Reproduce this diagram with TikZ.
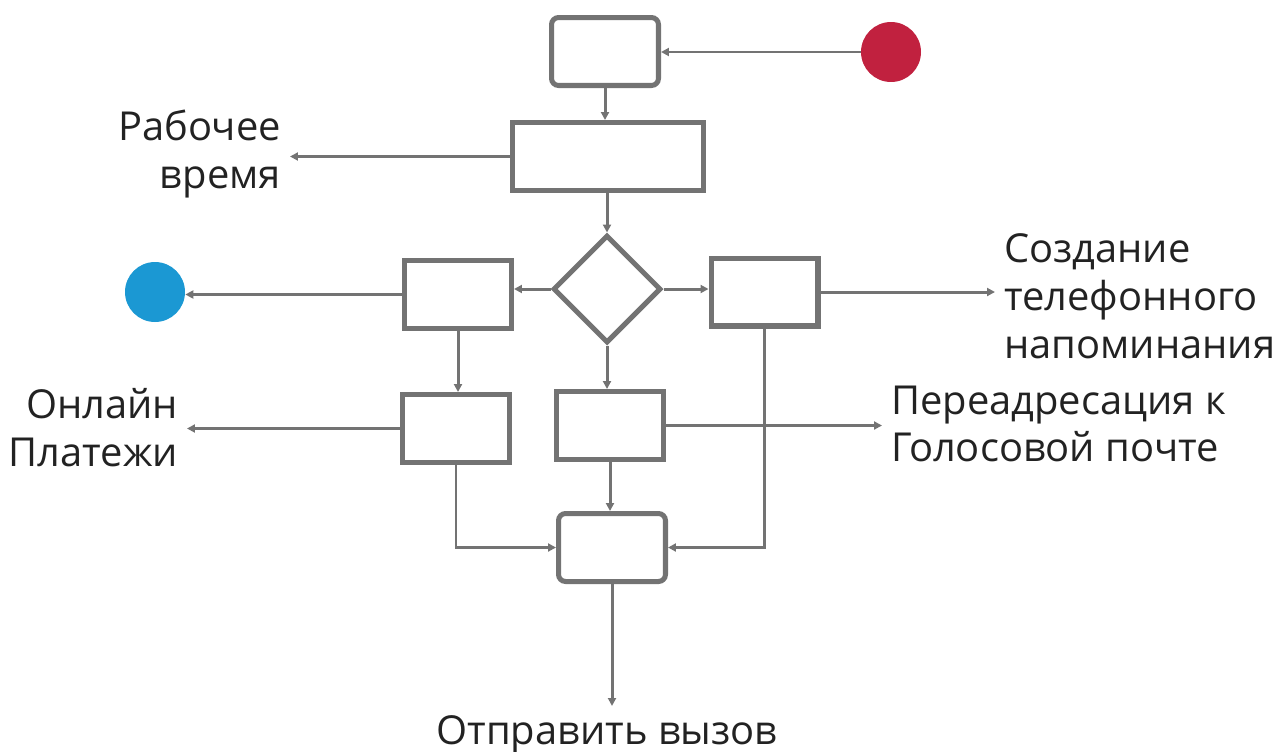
\documentclass[tikz,border=0pt]{standalone}
\usepackage{fontspec}
\setmainfont{Open Sans}
\usetikzlibrary{arrows.meta,shapes.geometric}
\definecolor{boxgray}{RGB}{115,115,115}
\definecolor{dotred}{RGB}{193,33,63}
\definecolor{dotblue}{RGB}{27,152,211}
\definecolor{txt}{RGB}{34,34,34}
\begin{document}
\begin{tikzpicture}[x=0.02cm, y=-0.02cm,
  box/.style = {draw=boxgray, line width=2.85pt, minimum width=2.14cm, minimum height=1.36cm, inner sep=0},
  rbox/.style = {box, rounded corners=4pt},
  dia/.style = {draw=boxgray, line width=2.85pt, diamond, minimum width=2.16cm, minimum height=2.16cm, inner sep=0},
  dot/.style = {circle, minimum size=1.2cm, inner sep=0},
  arr/.style = {draw=boxgray, line width=1.7pt, -{Triangle[length=4.5pt, width=4.5pt]}},
  lbl/.style = {text=txt, font=\fontsize{22.7}{27.2}\selectfont, inner sep=5pt}]
\useasboundingbox (0,0) rectangle (1274,751);
\node[rbox] (top) at (605, 51.5){};
\node[dot, fill=dotred] (red) at (891, 52){};
\node[box, minimum width=3.82cm] (work) at (608, 156.5){};
\node[dia] (choice) at (607, 289){};
\node[box] (left) at (458, 294.5){};
\node[box] (right) at (764.5, 292){};
\node[dot, fill=dotblue] (blue) at (155, 292){};
\node[box] (online) at (456, 428.5){};
\node[box] (voice) at (610, 425.5){};
\node[rbox] (fin) at (612, 547.5){};
\node[lbl, anchor=east, align=right] (worktime) at (290, 154){Рабочее\\время};
\node[lbl, anchor=west, align=left] (remind) at (995, 296){Создание\\телефонного\\напоминания};
\node[lbl, anchor=east, align=right] (pay) at (187, 428){Онлайн\\Платежи};
\node[lbl, anchor=west, align=left] (forward) at (882, 424){Переадресация к\\Голосовой почте};
\node[lbl, anchor=base] (send) at (607, 744){Отправить вызов};
\draw[arr] (red.west) -- (top.east |- red.west);
\draw[arr] (top.south) -- (top.south |- work.north);
\draw[arr] (work.west) -- (work.west -| worktime.east);
\draw[arr] (work.south -| choice.north) -- (choice.north);
\draw[arr] (choice.west) -- (choice.west -| left.east);
\draw[arr] (choice.east) -- (choice.east -| right.west);
\draw[arr] (left.west) -- (left.west -| blue.east);
\draw[arr] (right.east) -- (right.east -| remind.west);
\draw[arr] (left.south) -- (left.south |- online.north);
\draw[arr] (choice.south) -- (choice.south |- voice.north);
\draw[arr] (online.west) -- (online.west -| pay.east);
\draw[arr] (voice.east) -- (voice.east -| forward.west);
\draw[arr] (voice.south) -- (voice.south |- fin.north);
\draw[arr] (online.south) |- (fin.west);
\draw[arr] (right.south) |- (fin.east);
\draw[arr] (fin.south) -- (fin.south |- send.north);
\end{tikzpicture}
\end{document}
